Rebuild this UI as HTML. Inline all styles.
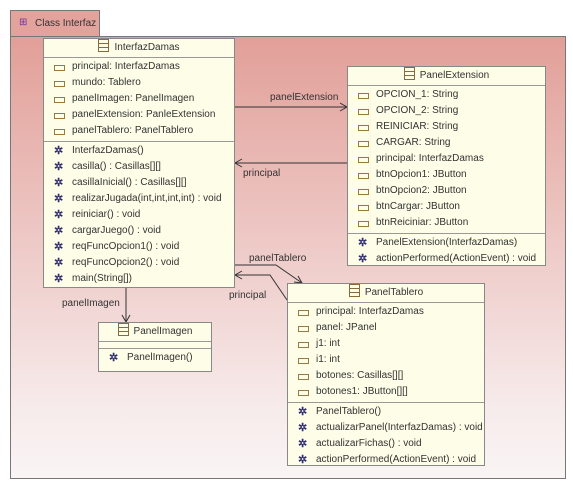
<!DOCTYPE html>
<html><head><style>
body{margin:0;width:573px;height:487px;background:#fff;position:relative;font-family:"Liberation Sans",sans-serif;font-size:10px;color:#333;overflow:hidden}
.tab{position:absolute;left:10px;top:10px;width:90px;height:26px;background:#e3a39c;border:1px solid #777;border-bottom:none;box-sizing:border-box}
.pkg{position:absolute;left:10px;top:36px;width:556px;height:443px;border:1px solid #777;box-sizing:border-box;background:linear-gradient(#e29f98,#f7ecec 85%,#faf4f4)}
.cls{position:absolute;background:#fdfde8;border:1px solid #888;box-sizing:border-box}
.hd{height:18px;line-height:18px;text-align:center;border-bottom:1px solid #999}
.sec{border-bottom:1px solid #999;padding:1px 0 2px}
.sec:last-child{border-bottom:none}
.r{height:16px;line-height:16px;padding-left:28px;position:relative;white-space:nowrap}
.a:before{content:"";position:absolute;left:10px;top:6px;width:9px;height:4px;border:1px solid #9a7a3a}
.o:before{content:"✲";position:absolute;left:10px;top:0;color:#2d2d6f;font-size:11px;font-weight:bold}
.ci{display:inline-block;width:9px;height:11px;border:1px solid #8a6a3a;vertical-align:-2px;margin-right:5px;background:linear-gradient(#fdfde8 3px,#8a6a3a 3px,#8a6a3a 4px,#fdfde8 4px,#fdfde8 7px,#8a6a3a 7px,#8a6a3a 8px,#fdfde8 8px)}
.lb{position:absolute;font-size:10px;color:#333}
</style></head><body>
<div class="tab"><span style="position:absolute;left:8px;top:6px;color:#7030a0">⊞</span><span style="position:absolute;left:24px;top:7px">Class Interfaz</span></div>
<div class="pkg"></div>
<svg style="position:absolute;left:0;top:0" width="573" height="487">
<g stroke="#333" fill="none" stroke-width="1">
<line x1="235" y1="107" x2="347" y2="107"/><polyline points="340,103 347,107 340,111"/>
<line x1="347" y1="163" x2="235" y2="163"/><polyline points="242,159 235,163 242,167"/>
<line x1="126" y1="287" x2="126" y2="322"/><polyline points="122,315 126,322 130,315"/>
<polyline points="235,265 276,265 302,283"/><polyline points="294,282 302,283 298,276"/>
<polyline points="287,300 270,275 235,275"/><polyline points="242,271 235,275 242,279"/>
</g></svg>
<div class="lb" style="left:270px;top:92px">panelExtension</div>
<div class="lb" style="left:243px;top:168px">principal</div>
<div class="lb" style="left:62px;top:298px">panelImagen</div>
<div class="lb" style="left:249px;top:253px">panelTablero</div>
<div class="lb" style="left:229px;top:290px">principal</div>

<div class="cls" style="left:43px;top:38px;width:192px;height:250px">
<div class="hd"><span class="ci"></span>InterfazDamas</div>
<div class="sec">
<div class="r a">principal: InterfazDamas</div><div class="r a">mundo: Tablero</div><div class="r a">panelImagen: PanelImagen</div><div class="r a">panelExtension: PanleExtension</div><div class="r a">panelTablero: PanelTablero</div></div>
<div class="sec">
<div class="r o">InterfazDamas()</div><div class="r o">casilla() : Casillas[][]</div><div class="r o">casillaInicial() : Casillas[][]</div><div class="r o">realizarJugada(int,int,int,int) : void</div><div class="r o">reiniciar() : void</div><div class="r o">cargarJuego() : void</div><div class="r o">reqFuncOpcion1() : void</div><div class="r o">reqFuncOpcion2() : void</div><div class="r o">main(String[])</div></div>
</div>

<div class="cls" style="left:347px;top:66px;width:199px;height:200px">
<div class="hd"><span class="ci"></span>PanelExtension</div>
<div class="sec">
<div class="r a">OPCION_1: String</div><div class="r a">OPCION_2: String</div><div class="r a">REINICIAR: String</div><div class="r a">CARGAR: String</div><div class="r a">principal: InterfazDamas</div><div class="r a">btnOpcion1: JButton</div><div class="r a">btnOpcion2: JButton</div><div class="r a">btnCargar: JButton</div><div class="r a">btnReiciniar: JButton</div></div>
<div class="sec"><div class="r o">PanelExtension(InterfazDamas)</div><div class="r o">actionPerformed(ActionEvent) : void</div></div>
</div>

<div class="cls" style="left:287px;top:283px;width:198px;height:183px">
<div class="hd"><span class="ci"></span>PanelTablero</div>
<div class="sec">
<div class="r a">principal: InterfazDamas</div><div class="r a">panel: JPanel</div><div class="r a">j1: int</div><div class="r a">i1: int</div><div class="r a">botones: Casillas[][]</div><div class="r a">botones1: JButton[][]</div></div>
<div class="sec"><div class="r o">PanelTablero()</div><div class="r o">actualizarPanel(InterfazDamas) : void</div><div class="r o">actualizarFichas() : void</div><div class="r o">actionPerformed(ActionEvent) : void</div></div>
</div>

<div class="cls" style="left:98px;top:322px;width:114px;height:50px">
<div class="hd"><span class="ci"></span>PanelImagen</div>
<div class="sec" style="height:6px;padding:0"></div>
<div class="sec"><div class="r o">PanelImagen()</div></div>
</div>
</body></html>
